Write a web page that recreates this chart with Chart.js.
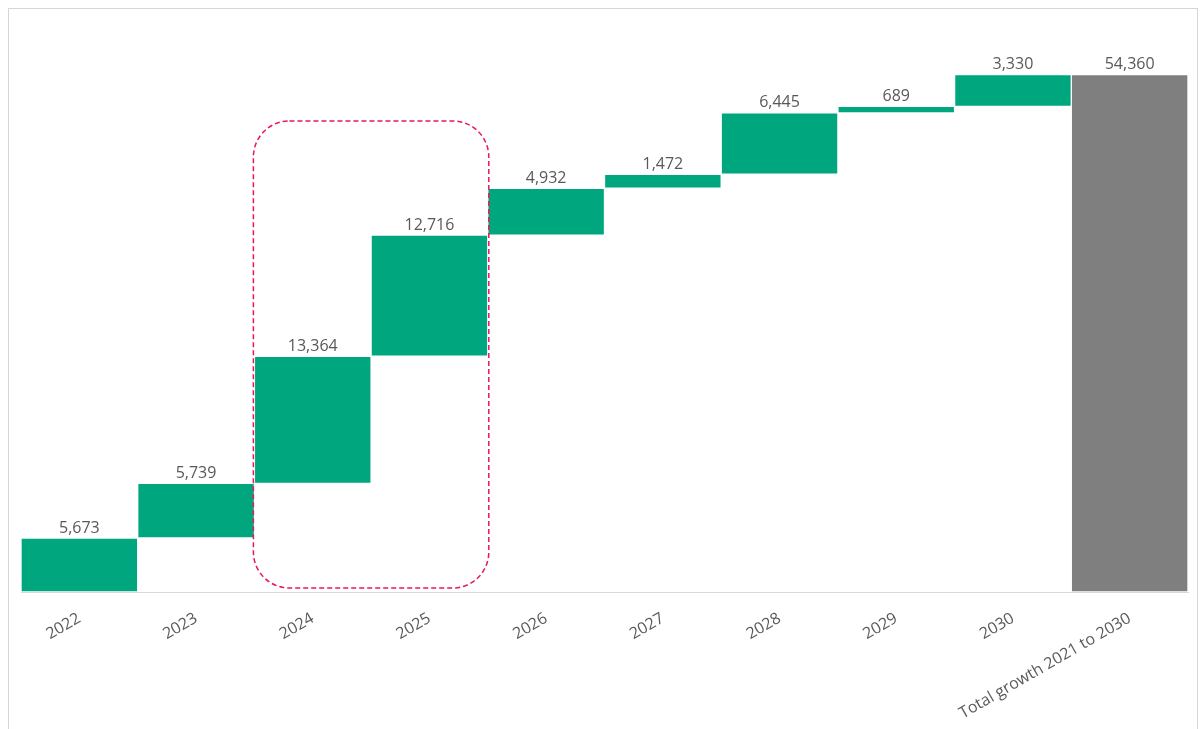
<!DOCTYPE html>
<html>
<head>
<meta charset="utf-8">
<script src="https://cdn.jsdelivr.net/npm/chart.js@4"></script>
<style>
  html, body { margin: 0; padding: 0; background: #fff; }
  #wrap { position: relative; width: 1202px; height: 729px; overflow: hidden; }
  #frame {
    position: absolute; left: 8px; top: 8px; width: 1190px; height: 760px;
    border: 1px solid #d6d6d6; box-sizing: border-box;
  }
  canvas { position: absolute; left: 0; top: 0; }
</style>
</head>
<body>
<div id="wrap">
  <div id="frame"></div>
  <canvas id="chart" width="1202" height="729"></canvas>
</div>
<script>
  // waterfall: yearly growth plus a total column
  var categories = ['2022', '2023', '2024', '2025', '2026', '2027', '2028', '2029', '2030', 'Total growth 2021 to 2030'];
  var increments = [5673, 5739, 13364, 12716, 4932, 1472, 6445, 689, 3330];
  var totalValue = 54360;
  var yTicks = [0, 60000];

  var GREEN = '#00a67d';
  var GREY = '#7f7f7f';
  var TEXT = '#595959';
  var FONT = "'Open Sans', 'Noto Sans', sans-serif";

  var ranges = [];
  var labels = [];
  var colors = [];
  var run = 0;
  increments.forEach(function (v) {
    ranges.push([run, run + v]);
    run += v;
    labels.push(v);
    colors.push(GREEN);
  });
  ranges.push([0, totalValue]);
  labels.push(totalValue);
  colors.push(GREY);

  // highlighted years (dashed box)
  var highlightFrom = '2024';
  var highlightTo = '2025';
  var highlightTopValue = 49500;

  var valueLabels = {
    id: 'valueLabels',
    afterDatasetsDraw: function (chart) {
      var ctx = chart.ctx;
      var meta = chart.getDatasetMeta(0);
      ctx.save();
      ctx.font = '16px ' + FONT;
      ctx.fillStyle = TEXT;
      ctx.textAlign = 'center';
      ctx.textBaseline = 'bottom';
      meta.data.forEach(function (bar, i) {
        ctx.fillText(labels[i].toLocaleString('en-US'), bar.x, bar.y - 2);
      });
      ctx.restore();
    }
  };

  var highlightBox = {
    id: 'highlightBox',
    afterDatasetsDraw: function (chart) {
      var x = chart.scales.x;
      var y = chart.scales.y;
      var i0 = categories.indexOf(highlightFrom);
      var i1 = categories.indexOf(highlightTo);
      var half = (x.getPixelForValue(1) - x.getPixelForValue(0)) / 2;
      var left = x.getPixelForValue(i0) - half - 1;
      var right = x.getPixelForValue(i1) + half + 1;
      var top = y.getPixelForValue(highlightTopValue);
      var bottom = y.getPixelForValue(0) - 4;
      var ctx = chart.ctx;
      ctx.save();
      ctx.strokeStyle = '#e8185c';
      ctx.lineWidth = 1.5;
      ctx.setLineDash([5, 3]);
      ctx.beginPath();
      ctx.roundRect(left, top, right - left, bottom - top, 36);
      ctx.stroke();
      ctx.restore();
    }
  };

  new Chart(document.getElementById('chart'), {
    type: 'bar',
    data: {
      labels: categories,
      datasets: [{
        data: ranges,
        backgroundColor: colors,
        borderColor: 'rgba(255,255,255,0.45)',
        borderWidth: 1,
        borderSkipped: false,
        categoryPercentage: 1,
        barPercentage: 1
      }]
    },
    options: {
      responsive: false,
      animation: false,
      layout: { padding: { left: 21, right: 14, top: 21, bottom: 0 } },
      plugins: {
        legend: { display: false },
        tooltip: { enabled: false }
      },
      scales: {
        x: {
          grid: { display: false, drawTicks: false },
          border: { color: '#d9d9d9', width: 1 },
          ticks: {
            autoSkip: false,
            minRotation: 30,
            maxRotation: 30,
            padding: 17,
            color: TEXT,
            font: { family: FONT, size: 16 }
          },
          afterFit: function (scale) { scale.height = 137; }
        },
        y: {
          display: false,
          min: yTicks[0],
          max: yTicks[1]
        }
      }
    },
    plugins: [valueLabels, highlightBox]
  });
</script>
</body>
</html>
